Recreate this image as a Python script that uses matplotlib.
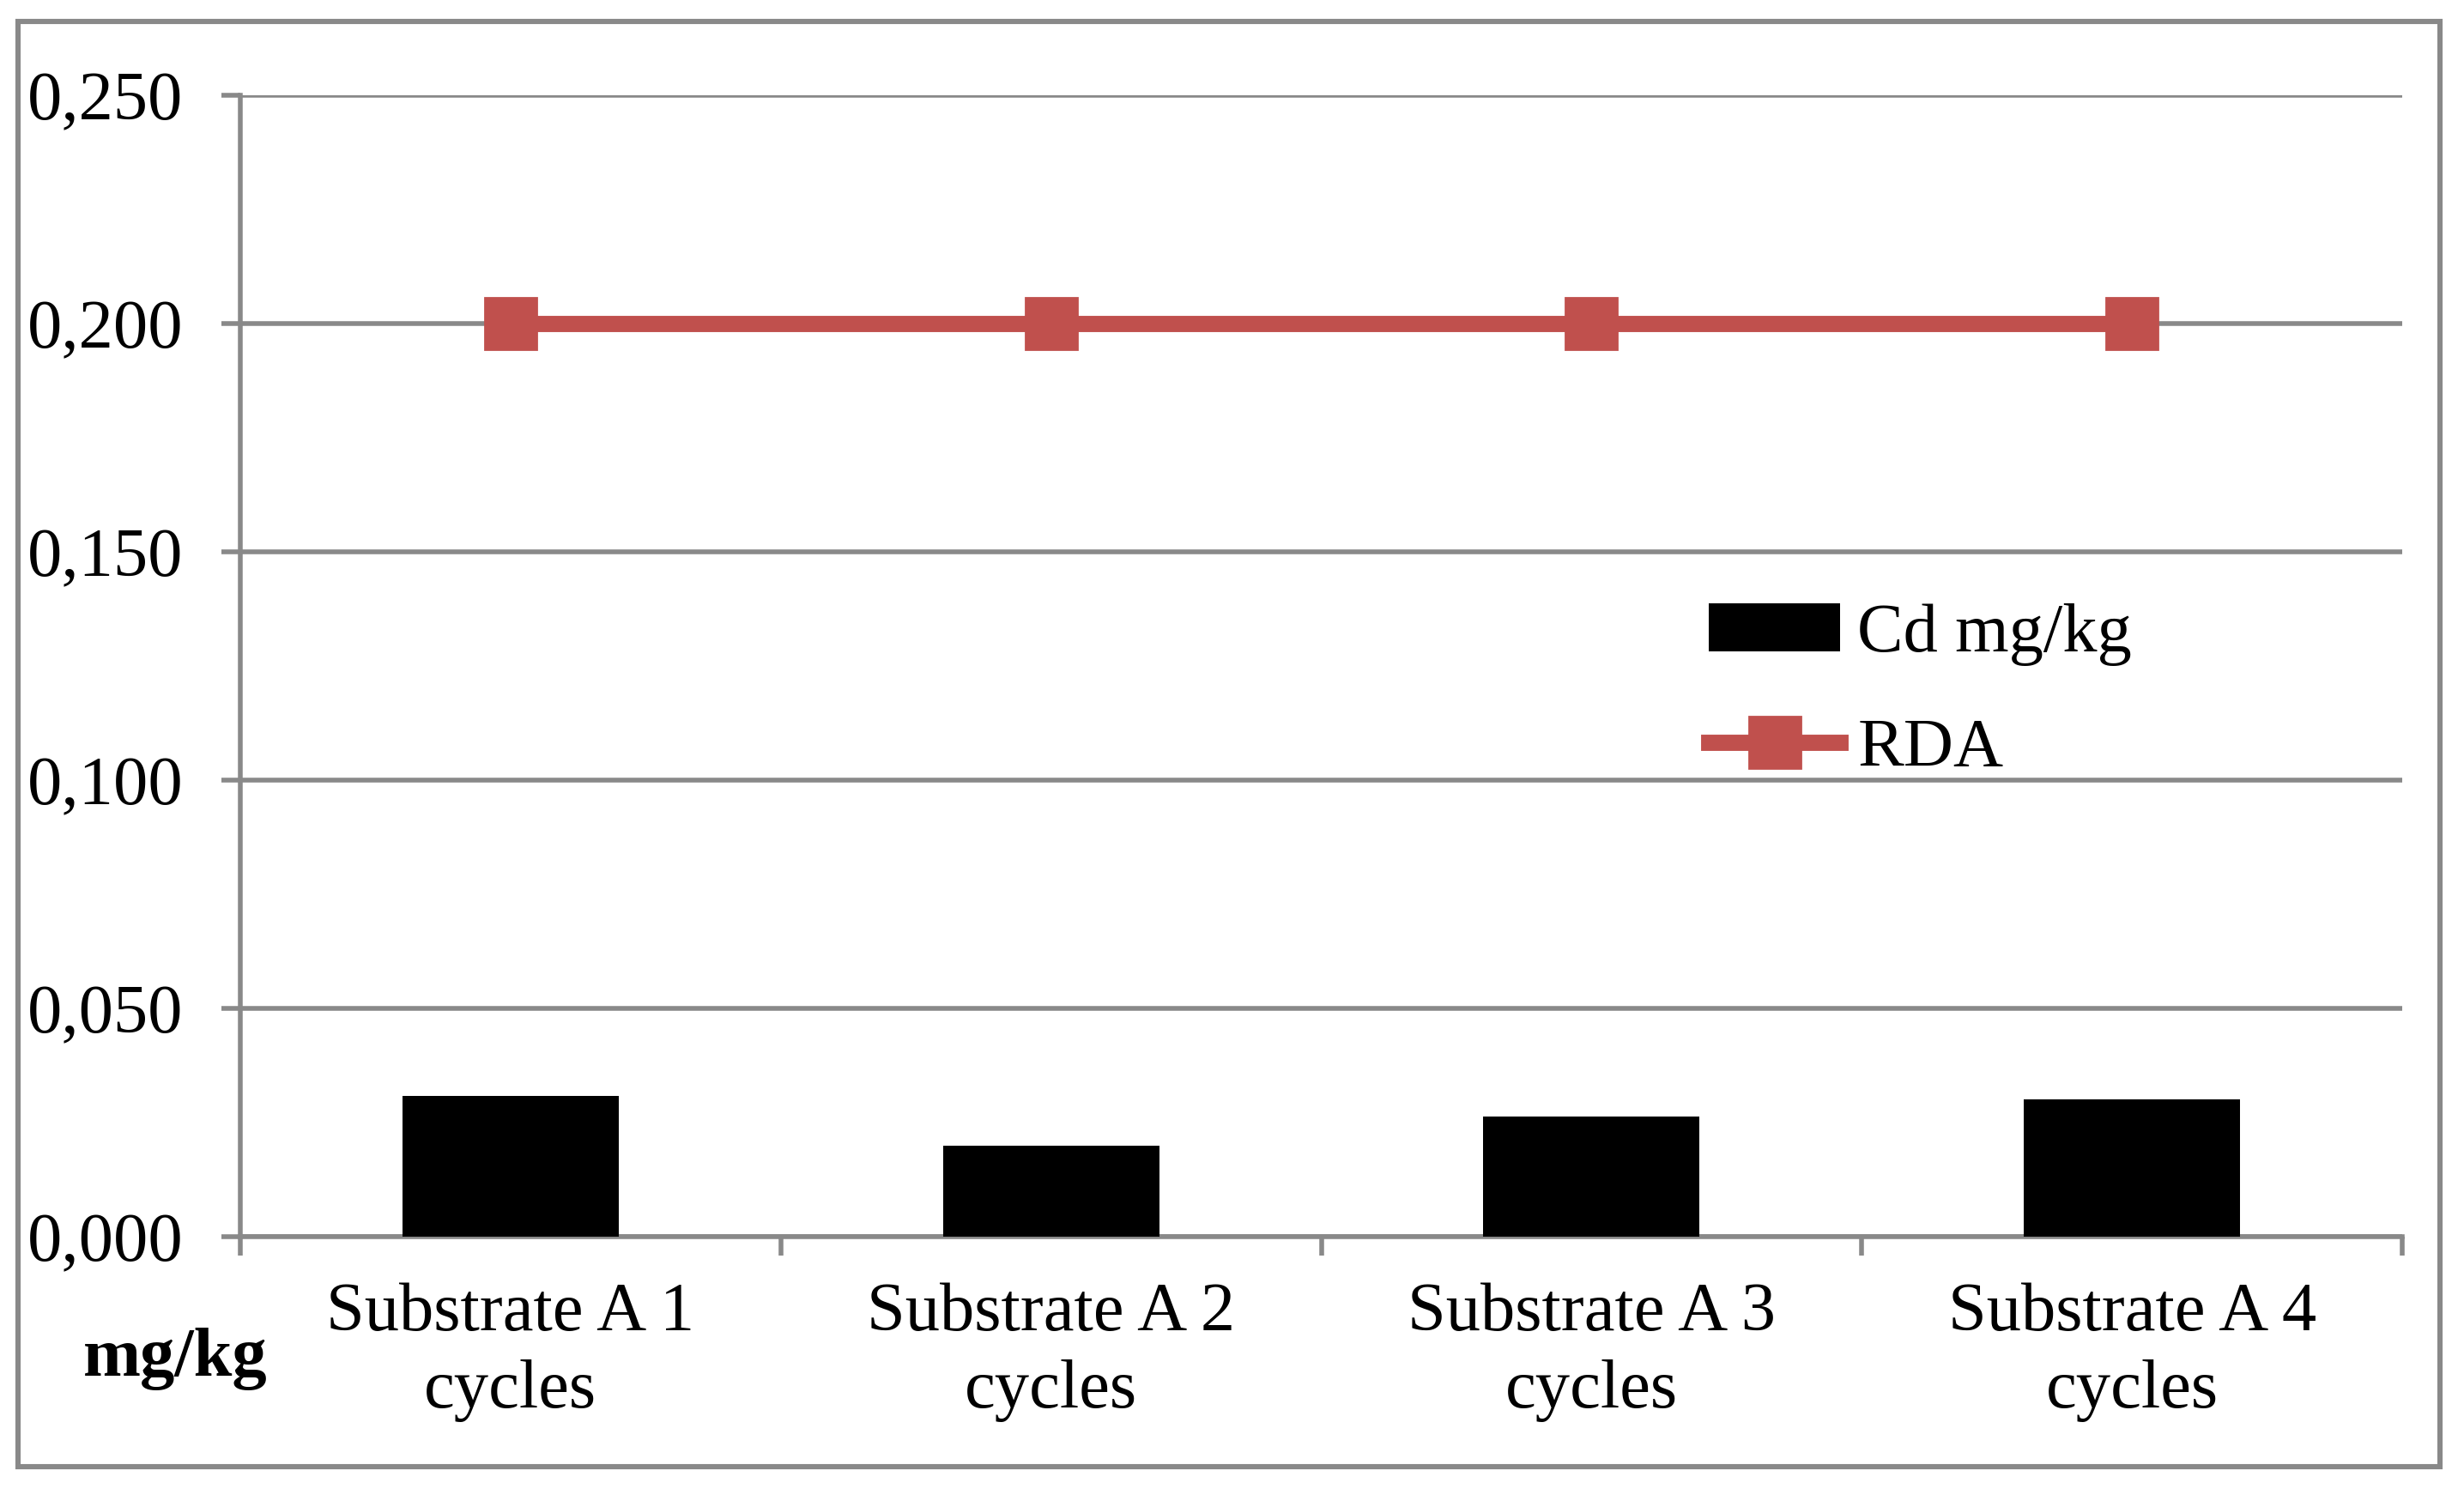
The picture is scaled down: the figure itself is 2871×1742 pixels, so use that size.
import matplotlib
matplotlib.use("Agg")
import matplotlib.pyplot as plt
from matplotlib.patches import Rectangle
from matplotlib.ticker import FixedLocator, FuncFormatter
import numpy as np

categories = ["Substrate A 1\ncycles", "Substrate A 2\ncycles", "Substrate A 3\ncycles", "Substrate A 4\ncycles"]
cd_values = [0.0308, 0.0200, 0.0264, 0.0300]
rda_values = [0.200, 0.200, 0.200, 0.200]
y_ticks = [0.000, 0.050, 0.100, 0.150, 0.200, 0.250]

plt.rcParams['font.family'] = ['Liberation Serif', 'DejaVu Serif']

W, H = 2871, 1742
DPI = 200
fig = plt.figure(figsize=(W / DPI, H / DPI), dpi=DPI)
fig.patch.set_facecolor('white')

left, right, top, bottom = 280, 2799, 111, 1441
ax = fig.add_axes([left / W, 1 - bottom / H, (right - left) / W, (bottom - top) / H])

grid_c = '#898989'
x = np.arange(len(categories))
bars = ax.bar(x, cd_values, width=0.4, color='black', label='Cd mg/kg', zorder=3)
line, = ax.plot(x, rda_values, color='#C0504D', lw=6.8, marker='s', markersize=21.5,
                markerfacecolor='#C0504D', markeredgecolor='#C0504D', label='RDA', zorder=4)

ax.set_xlim(-0.5, len(categories) - 0.5)
ax.set_ylim(0, 0.25)
ax.yaxis.set_major_locator(FixedLocator(y_ticks))
ax.yaxis.set_major_formatter(FuncFormatter(lambda v, p: f"{v:.3f}".replace('.', ',')))
ax.grid(axis='y', color=grid_c, lw=2.0, zorder=0)
ax.set_axisbelow(True)

for s in ['top', 'right']:
    ax.spines[s].set_visible(False)
ax.spines['left'].set_color(grid_c)
ax.spines['left'].set_linewidth(2.0)
ax.spines['bottom'].set_color(grid_c)
ax.spines['bottom'].set_linewidth(2.0)

ax.tick_params(axis='y', length=8, width=2.0, color=grid_c, labelsize=29, pad=16)
ax.set_xticks(np.arange(len(categories) + 1) - 0.5)
ax.set_xticklabels([])
ax.tick_params(axis='x', which='major', length=8, width=2.0, color=grid_c)
ax.set_xticks(x, minor=True)
ax.set_xticklabels(categories, minor=True, fontsize=29, linespacing=1.3)
ax.tick_params(axis='x', which='minor', length=0, pad=19)

fig.text(204 / W, 1 - 1583 / H, 'mg/kg', fontsize=29, fontweight='bold', ha='center', va='center')

leg = ax.legend(handles=[bars, line], labels=['Cd mg/kg', 'RDA'],
                loc='upper left', bbox_to_anchor=(1991 / W, 1 - 703 / H), bbox_transform=fig.transFigure,
                frameon=False, fontsize=29, handlelength=1.9, handletextpad=0.25, labelspacing=0.75,
                borderaxespad=0, borderpad=0)

fig.add_artist(Rectangle((21 / W, 1 - 1709 / H), (2843 - 21) / W, (1709 - 25) / H,
                         transform=fig.transFigure, fill=False, edgecolor=grid_c, lw=2.2))

fig.savefig('out.png', dpi=DPI, facecolor='white')
